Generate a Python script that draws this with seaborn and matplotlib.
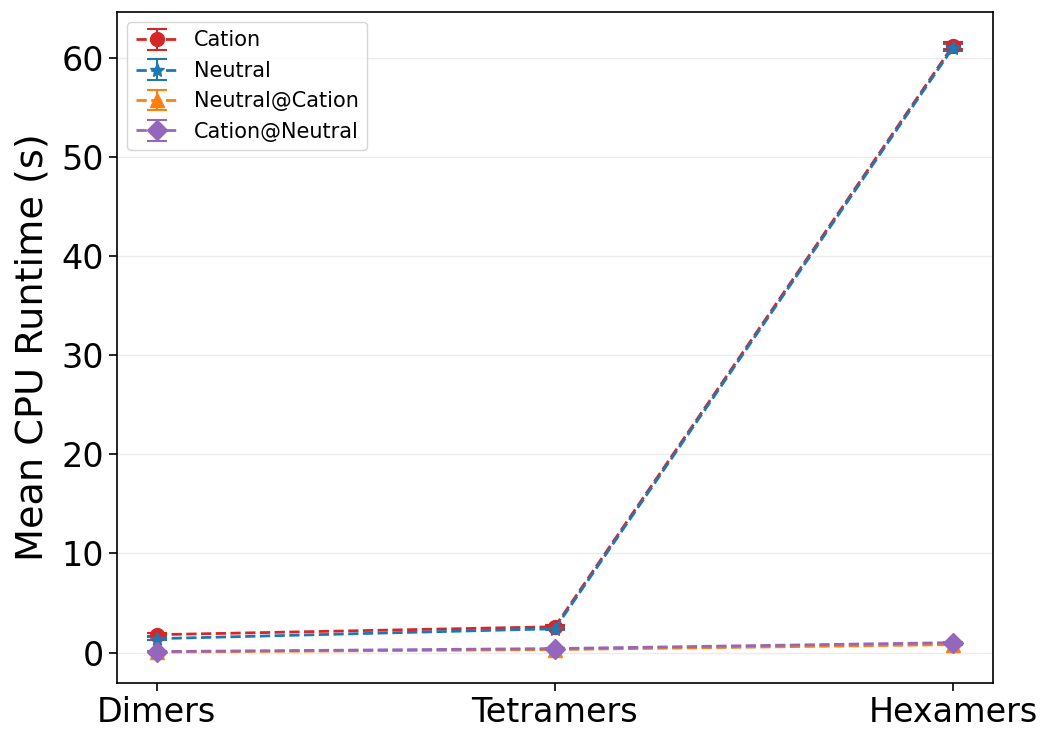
import matplotlib
matplotlib.use("Agg")
import matplotlib.pyplot as plt
import seaborn as sns
import numpy as np

sns.set_style("ticks", {"axes.edgecolor": "black", "text.color": "black",
                        "axes.labelcolor": "black", "xtick.color": "black",
                        "ytick.color": "black"})
plt.rcParams['font.family'] = ['DejaVu Sans']

systems = ["Dimers", "Tetramers", "Hexamers"]
cation = [1.8, 2.6, 61.2]
cation_err = [0.15, 0.15, 0.35]
neutral = [1.4, 2.4, 61.0]
neutral_err = [0.12, 0.15, 0.35]
neutral_at_cation = [0.05, 0.3, 0.8]
neutral_at_cation_err = [0.02, 0.03, 0.05]
cation_at_neutral = [0.1, 0.4, 1.0]
cation_at_neutral_err = [0.02, 0.03, 0.05]

series = [
    ("Cation", cation, cation_err, "o", "tab:red"),
    ("Neutral", neutral, neutral_err, "*", "tab:blue"),
    ("Neutral@Cation", neutral_at_cation, neutral_at_cation_err, "^", "tab:orange"),
    ("Cation@Neutral", cation_at_neutral, cation_at_neutral_err, "D", "tab:purple"),
]

fig, ax = plt.subplots(figsize=(10.45, 7.31), dpi=100)
fig.subplots_adjust(left=0.112, right=0.950, top=0.984, bottom=0.066)

x = np.arange(len(systems))
for label, vals, err, marker, color in series:
    ax.errorbar(x, vals, yerr=err, label=label, marker=marker, color=color,
                linestyle="--", linewidth=2, markersize=10, capsize=7,
                elinewidth=1.5, capthick=1.5)

ax.set_xticks(x)
ax.set_xticklabels(systems, fontsize=24)
ax.tick_params(axis="y", labelsize=24)
ax.tick_params(axis="both", length=6, width=1.2)
ax.set_ylabel("Mean CPU Runtime (s)", fontsize=27.5, labelpad=8)
ax.yaxis.grid(True, color="#ebebeb", linewidth=1)
ax.set_axisbelow(True)
for s in ax.spines.values():
    s.set_color("black")
    s.set_linewidth(1.2)
ax.legend(loc="upper left", fontsize=15)

fig.savefig("out.png", dpi=100)
